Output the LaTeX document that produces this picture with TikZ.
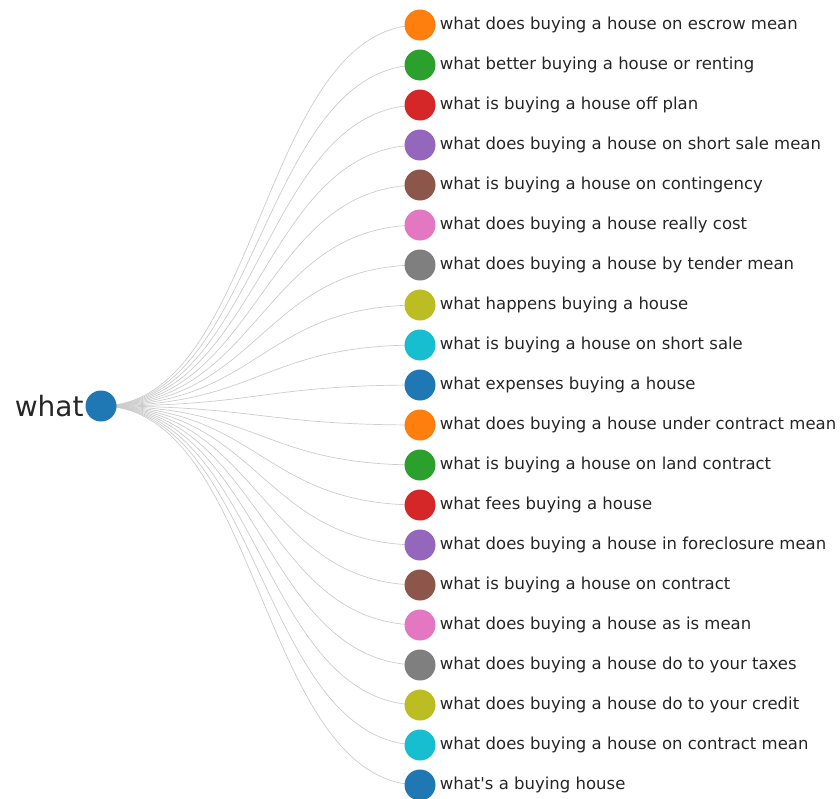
\documentclass[tikz,border=0pt]{standalone}
\usepackage{fontspec}
\setmainfont{DejaVu Sans}
\usetikzlibrary{backgrounds}
\definecolor{cblue}{HTML}{1F77B4}
\definecolor{corange}{HTML}{FF7F0E}
\definecolor{cgreen}{HTML}{2CA02C}
\definecolor{cred}{HTML}{D62728}
\definecolor{cpurple}{HTML}{9467BD}
\definecolor{cbrown}{HTML}{8C564B}
\definecolor{cpink}{HTML}{E377C2}
\definecolor{cgray}{HTML}{7F7F7F}
\definecolor{colive}{HTML}{BCBD22}
\definecolor{ccyan}{HTML}{17BECF}

\begin{document}
\begin{tikzpicture}[x=1pt, y=-1pt,
    leaf/.style={circle, minimum size=31pt, inner sep=0pt},
    txt/.style={font=\fontsize{16.5}{19}\selectfont, text=black!85, inner sep=0pt},
    link/.style={draw=black!20, line width=0.7pt, out=0, in=180,
                 out distance=160pt, in distance=160pt}]
                \useasboundingbox (0,0) rectangle (840,798);

                % Root
                \node[leaf, fill=cblue, label={[font=\fontsize{28}{31}\selectfont, text=black!85, inner sep=1.5pt]left:what}] (what) at (101,406) {};

                % Leaves
                \node[leaf, fill=corange, label={[txt, xshift=4pt]right:what does buying a house on escrow mean}] (l1) at (420,25) {};
                \node[leaf, fill=cgreen, label={[txt, xshift=4pt]right:what better buying a house or renting}] (l2) at (420,65) {};
                \node[leaf, fill=cred, label={[txt, xshift=4pt]right:what is buying a house off plan}] (l3) at (420,105) {};
                \node[leaf, fill=cpurple, label={[txt, xshift=4pt]right:what does buying a house on short sale mean}] (l4) at (420,145) {};
                \node[leaf, fill=cbrown, label={[txt, xshift=4pt]right:what is buying a house on contingency}] (l5) at (420,185) {};
                \node[leaf, fill=cpink, label={[txt, xshift=4pt]right:what does buying a house really cost}] (l6) at (420,225) {};
                \node[leaf, fill=cgray, label={[txt, xshift=4pt]right:what does buying a house by tender mean}] (l7) at (420,265) {};
                \node[leaf, fill=colive, label={[txt, xshift=4pt]right:what happens buying a house}] (l8) at (420,305) {};
                \node[leaf, fill=ccyan, label={[txt, xshift=4pt]right:what is buying a house on short sale}] (l9) at (420,345) {};
                \node[leaf, fill=cblue, label={[txt, xshift=4pt]right:what expenses buying a house}] (l10) at (420,385) {};
                \node[leaf, fill=corange, label={[txt, xshift=4pt]right:what does buying a house under contract mean}] (l11) at (420,425) {};
                \node[leaf, fill=cgreen, label={[txt, xshift=4pt]right:what is buying a house on land contract}] (l12) at (420,465) {};
                \node[leaf, fill=cred, label={[txt, xshift=4pt]right:what fees buying a house}] (l13) at (420,505) {};
                \node[leaf, fill=cpurple, label={[txt, xshift=4pt]right:what does buying a house in foreclosure mean}] (l14) at (420,545) {};
                \node[leaf, fill=cbrown, label={[txt, xshift=4pt]right:what is buying a house on contract}] (l15) at (420,585) {};
                \node[leaf, fill=cpink, label={[txt, xshift=4pt]right:what does buying a house as is mean}] (l16) at (420,625) {};
                \node[leaf, fill=cgray, label={[txt, xshift=4pt]right:what does buying a house do to your taxes}] (l17) at (420,665) {};
                \node[leaf, fill=colive, label={[txt, xshift=4pt]right:what does buying a house do to your credit}] (l18) at (420,705) {};
                \node[leaf, fill=ccyan, label={[txt, xshift=4pt]right:what does buying a house on contract mean}] (l19) at (420,745) {};
                \node[leaf, fill=cblue, label={[txt, xshift=4pt]right:what\textquotesingle s a buying house}] (l20) at (420,785) {};

                % Links
                \begin{pgfonlayer}{background}
                \foreach \n in {1,...,20}
                    \draw[link] (what.center) to (l\n.center);
                \end{pgfonlayer}
            \end{tikzpicture}
\end{document}
